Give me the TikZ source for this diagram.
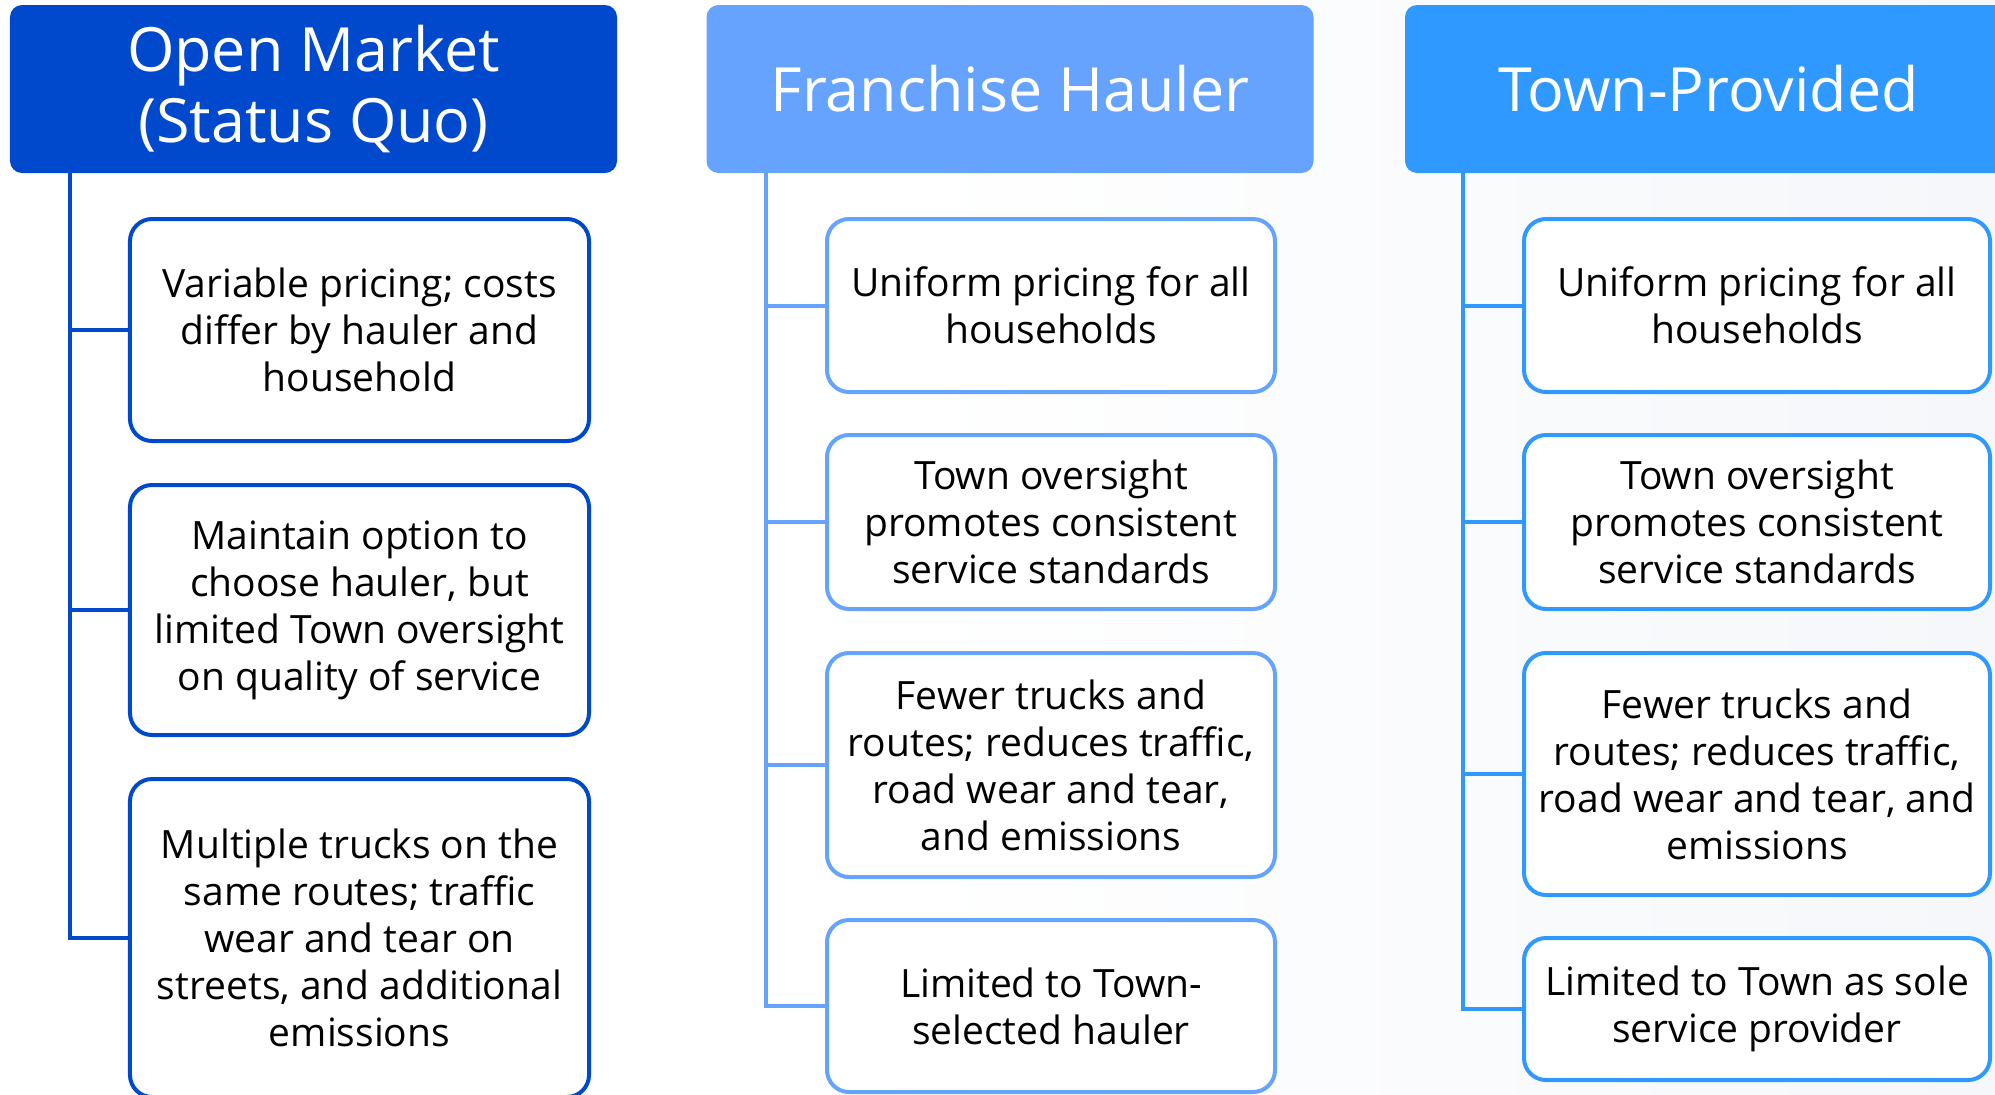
\documentclass[tikz,border=0pt]{standalone}
\usepackage{fontspec}
\setmainfont{Open Sans}

\definecolor{omblue}{RGB}{0,72,204}
\definecolor{fhblue}{RGB}{102,163,255}
\definecolor{tpblue}{RGB}{48,153,255}
\definecolor{bgtint}{RGB}{245,247,250}

\tikzset{
  head/.style={rounded corners=12bp, minimum width=607bp, minimum height=168bp,
    text=white, align=center, inner sep=0pt,
    font=\fontsize{61bp}{71bp}\selectfont},
  item/.style={draw, fill=white, line width=4bp, rounded corners=22bp,
    align=center, inner sep=0pt, text=black,
    font=\fontsize{39bp}{47bp}\selectfont},
  link/.style={line width=4bp},
}

\begin{document}
\begin{tikzpicture}[x={(1bp,0)}, y={(0,-1bp)}]
\useasboundingbox (0,0) rectangle (1995,1094);
\clip (0,0) rectangle (1995,1094);
\fill[white] (0,0) rectangle (1995,1094);
\shade[left color=white, right color=bgtint] (900,0) rectangle (1995,1094);

% ---------- Open Market ----------
\node[head, fill=omblue] (ha) at (313.5,89) {Open Market\\(Status Quo)};
\coordinate (ta) at (70,0);
\node[item, draw=omblue, minimum width=459bp, minimum height=222bp] (a1) at (359.5,330)
  {Variable pricing; costs\\differ by hauler and\\household};
\node[item, draw=omblue, minimum width=459bp, minimum height=250bp] (a2) at (359.5,610)
  {Maintain option to\\choose hauler, but\\limited Town oversight\\on quality of service};
\node[item, draw=omblue, minimum width=459bp, minimum height=318bp] (a3) at (359.5,938)
  {Multiple trucks on the\\same routes; traffic\\wear and tear on\\streets, and additional\\emissions};
\draw[link, omblue] (ha.south -| ta) |- (a3.west);
\draw[link, omblue] (a1.west -| ta) -- (a1.west);
\draw[link, omblue] (a2.west -| ta) -- (a2.west);

% ---------- Franchise Hauler ----------
\node[head, fill=fhblue] (hb) at (1010,89) {Franchise Hauler};
\coordinate (tb) at (766,0);
\node[item, draw=fhblue, minimum width=448bp, minimum height=173bp] (b1) at (1051,305.5)
  {Uniform pricing for all\\households};
\node[item, draw=fhblue, minimum width=448bp, minimum height=174bp] (b2) at (1051,522)
  {Town oversight\\promotes consistent\\service standards};
\node[item, draw=fhblue, minimum width=448bp, minimum height=224bp] (b3) at (1051,765)
  {Fewer trucks and\\routes; reduces traffic,\\road wear and tear,\\and emissions};
\node[item, draw=fhblue, minimum width=448bp, minimum height=172bp] (b4) at (1051,1006)
  {Limited to Town-\\selected hauler};
\draw[link, fhblue] (hb.south -| tb) |- (b4.west);
\draw[link, fhblue] (b1.west -| tb) -- (b1.west);
\draw[link, fhblue] (b2.west -| tb) -- (b2.west);
\draw[link, fhblue] (b3.west -| tb) -- (b3.west);

% ---------- Town-Provided ----------
\node[head, fill=tpblue] (hc) at (1708.5,89) {Town-Provided};
\coordinate (tc) at (1463,0);
\node[item, draw=tpblue, minimum width=466bp, minimum height=173bp] (c1) at (1757,305.5)
  {Uniform pricing for all\\households};
\node[item, draw=tpblue, minimum width=466bp, minimum height=174bp] (c2) at (1757,522)
  {Town oversight\\promotes consistent\\service standards};
\node[item, draw=tpblue, minimum width=466bp, minimum height=242bp] (c3) at (1757,774)
  {Fewer trucks and\\routes; reduces traffic,\\road wear and tear, and\\emissions};
\node[item, draw=tpblue, minimum width=466bp, minimum height=142bp] (c4) at (1757,1009)
  {Limited to Town as sole\\service provider};
\draw[link, tpblue] (hc.south -| tc) |- (c4.west);
\draw[link, tpblue] (c1.west -| tc) -- (c1.west);
\draw[link, tpblue] (c2.west -| tc) -- (c2.west);
\draw[link, tpblue] (c3.west -| tc) -- (c3.west);
\end{tikzpicture}
\end{document}
